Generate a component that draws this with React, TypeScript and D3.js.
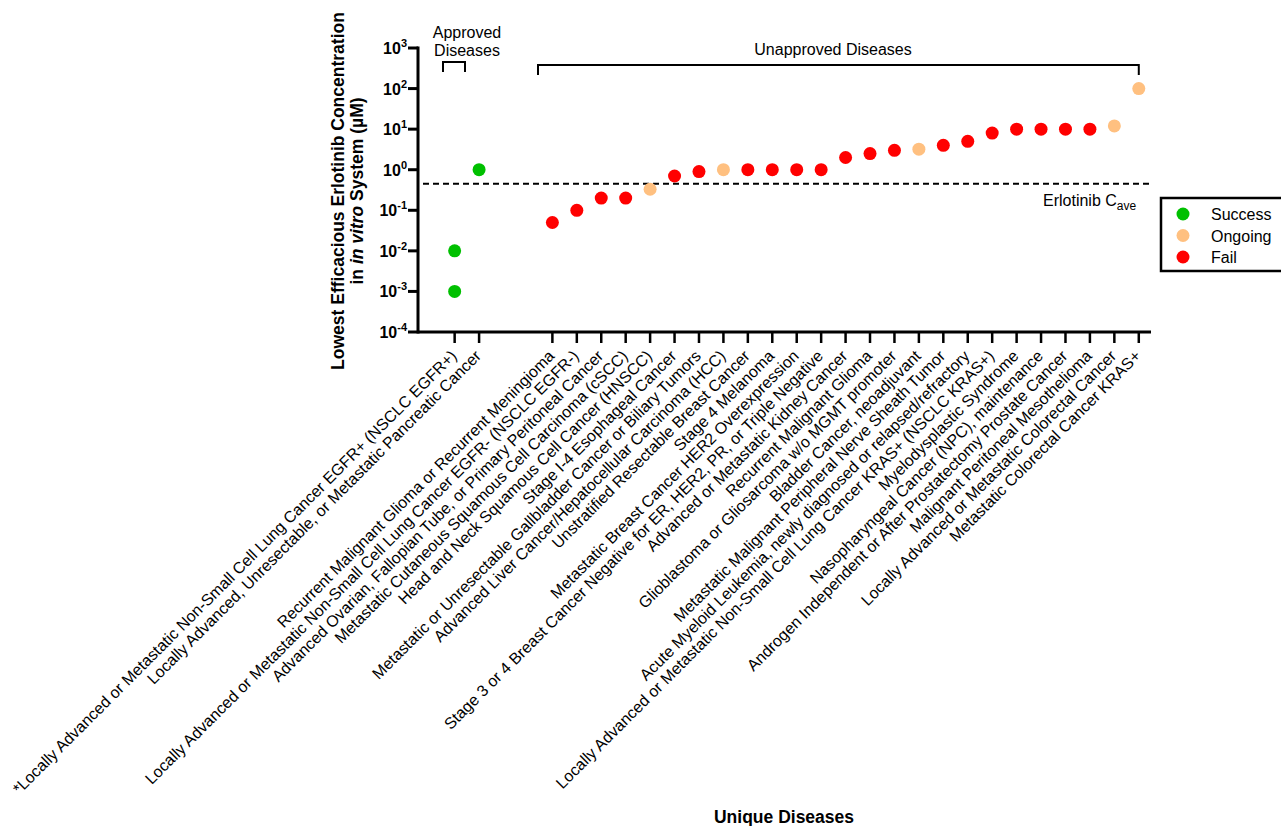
import React from 'react';
import * as d3 from 'd3';

// approved (index 0..1), unapproved (index 4..28)
const approvedDiseases = [
  '*Locally Advanced or Metastatic Non-Small Cell Lung Cancer EGFR+ (NSCLC EGFR+)',
  'Locally Advanced, Unresectable, or Metastatic Pancreatic Cancer',
];
const unapprovedDiseases = [
  'Recurrent Malignant Glioma or Recurrent Meningioma',
  'Locally Advanced or Metastatic Non-Small Cell Lung Cancer EGFR- (NSCLC EGFR-)',
  'Advanced Ovarian, Fallopian Tube, or Primary Peritoneal Cancer',
  'Metastatic Cutaneous Squamous Cell Carcinoma (cSCC)',
  'Head and Neck Squamous Cell Cancer (HNSCC)',
  'Stage I-4 Esophageal Cancer',
  'Metastatic or Unresectable Gallbladder Cancer or Biliary Tumors',
  'Advanced Liver Cancer/Hepatocellular Carcinoma (HCC)',
  'Unstratified Resectable Breast Cancer',
  'Stage 4 Melanoma',
  'Metastatic Breast Cancer HER2 Overexpression',
  'Stage 3 or 4 Breast Cancer Negative for ER, HER2, PR, or Triple Negative',
  'Advanced or Metastatic Kidney Cancer',
  'Recurrent Malignant Glioma',
  'Glioblastoma or Gliosarcoma w/o MGMT promoter',
  'Bladder Cancer, neoadjuvant',
  'Metastatic Malignant Peripheral Nerve Sheath Tumor',
  'Acute Myeloid Leukemia, newly diagnosed or relapsed/refractory',
  'Locally Advanced or Metastatic Non-Small Cell Lung Cancer KRAS+ (NSCLC KRAS+)',
  'Myelodysplastic Syndrome',
  'Nasopharyngeal Cancer (NPC), maintenance',
  'Androgen Independent or After Prostatectomy Prostate Cancer',
  'Malignant Peritoneal Mesothelioma',
  'Locally Advanced or Metastatic Colorectal Cancer',
  'Metastatic Colorectal Cancer KRAS+',
];

// points: disease index into the label list, value in uM, outcome
const approvedPoints = [
  { d: 0, v: 0.01, s: 'Success' },
  { d: 0, v: 0.001, s: 'Success' },
  { d: 1, v: 1, s: 'Success' },
];
const unapprovedValues = [0.05, 0.1, 0.2, 0.2, 0.33, 0.7, 0.9, 1, 1, 1, 1, 1, 2, 2.5, 3, 3.2, 4, 5, 8, 10, 10, 10, 10, 12, 100];
const unapprovedStatus = ['Fail', 'Fail', 'Fail', 'Fail', 'Ongoing', 'Fail', 'Fail', 'Ongoing', 'Fail', 'Fail', 'Fail', 'Fail',
  'Fail', 'Fail', 'Fail', 'Ongoing', 'Fail', 'Fail', 'Fail', 'Fail', 'Fail', 'Fail', 'Fail', 'Ongoing', 'Ongoing'];

const cave = 0.45;
const yTicks = [-4, -3, -2, -1, 0, 1, 2, 3];
const statusNames = ['Success', 'Ongoing', 'Fail'];
const statusColors = ['#00C000', '#FFC080', '#FF0000'];

const font = 'Liberation Sans, Arial, sans-serif';

export default function App() {
  const x = d3.scaleLinear().domain([-1.5, 28.5]).range([418, 1151]);
  const y = d3.scaleLog().domain([1e-4, 1e3]).range([332, 48]);
  const color = d3.scaleOrdinal<string, string>().domain(statusNames).range(statusColors);

  const labels = [
    ...approvedDiseases.map((t, i) => ({ t, i })),
    ...unapprovedDiseases.map((t, i) => ({ t, i: i + 4 })),
  ];
  const points = [
    ...approvedPoints.map(p => ({ i: p.d, v: p.v, s: p.s })),
    ...unapprovedValues.map((v, k) => ({ i: k + 4, v, s: unapprovedStatus[k] })),
  ];

  const axisBottom = 332;
  const axisLeft = 418;

  return (
    <svg width={1281} height={826} style={{ position: 'absolute', left: 0, top: 0 }} fontFamily={font}>
      {/* y axis */}
      <line x1={axisLeft} y1={y(1e3) - 1.5} x2={axisLeft} y2={axisBottom + 1.5} stroke='#000' strokeWidth={3} />
      {yTicks.map(e => (
        <g key={e}>
          <line x1={axisLeft - 10} x2={axisLeft} y1={y(Math.pow(10, e))} y2={y(Math.pow(10, e))} stroke='#000' strokeWidth={3} />
          <text x={axisLeft - 11} y={y(Math.pow(10, e)) + 6} textAnchor='end' fontWeight='bold' fontSize={16}>
            10<tspan fontSize={11} dy={-7}>{e}</tspan>
          </text>
        </g>
      ))}

      {/* x axis */}
      <line x1={axisLeft} y1={axisBottom} x2={1151} y2={axisBottom} stroke='#000' strokeWidth={3} />
      {labels.map(l => (
        <line key={'t' + l.i} x1={x(l.i)} x2={x(l.i)} y1={axisBottom} y2={axisBottom + 11} stroke='#000' strokeWidth={2.5} />
      ))}
      {labels.map(l => (
        <text
          key={'l' + l.i}
          transform={`translate(${x(l.i) + 3},${axisBottom + 25}) rotate(-45)`}
          textAnchor='end'
          fontSize={16}
        >
          {l.t}
        </text>
      ))}

      {/* Cave line */}
      <line x1={axisLeft + 5} x2={1149} y1={y(cave)} y2={y(cave)} stroke='#000' strokeWidth={2} strokeDasharray='6,4' />
      <text x={1043} y={206} fontSize={16}>
        Erlotinib C<tspan fontSize={12} dy={4}>ave</tspan>
      </text>

      {/* points */}
      {points.map((p, k) => (
        <circle key={k} cx={x(p.i)} cy={y(p.v)} r={6.5} fill={color(p.s)} />
      ))}

      {/* brackets */}
      <path d='M443,72V62H465V72' fill='none' stroke='#000' strokeWidth={2} />
      <text x={467} y={38} textAnchor='middle' fontSize={16}>Approved</text>
      <text x={467} y={56} textAnchor='middle' fontSize={16}>Diseases</text>
      <path d={`M538,75V65H${x(28)}V75`} fill='none' stroke='#000' strokeWidth={2} />
      <text x={833} y={55} textAnchor='middle' fontSize={16}>Unapproved Diseases</text>

      {/* axis titles */}
      <text transform='translate(344,191) rotate(-90)' textAnchor='middle' fontWeight='bold' fontSize={17.5}>
        Lowest Efficacious Erlotinib Concentration
      </text>
      <text transform='translate(363,191) rotate(-90)' textAnchor='middle' fontWeight='bold' fontSize={17.5}>
        in <tspan fontStyle='italic'>in vitro</tspan> System (µM)
      </text>
      <text x={784} y={823} textAnchor='middle' fontWeight='bold' fontSize={17.5}>Unique Diseases</text>

      {/* legend */}
      <rect x={1161} y={198} width={125} height={73} fill='#fff' stroke='#000' strokeWidth={2.5} />
      {statusNames.map((s, k) => (
        <g key={s}>
          <circle cx={1183} cy={214 + k * 21.5} r={6.5} fill={color(s)} />
          <text x={1211} y={220 + k * 21.5} fontSize={16}>{s}</text>
        </g>
      ))}
    </svg>
  );
}
